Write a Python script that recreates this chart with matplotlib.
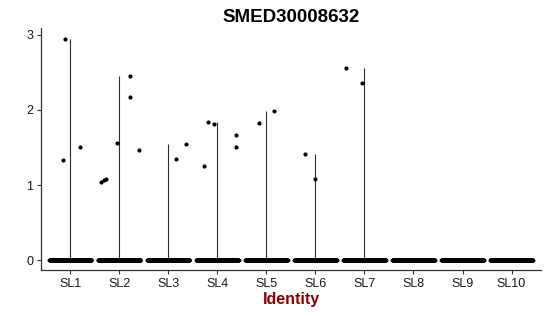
import matplotlib
matplotlib.use("Agg")
import matplotlib.pyplot as plt
import numpy as np

plt.rcParams["font.family"] = ["Liberation Sans", "DejaVu Sans"]

categories = ["SL1", "SL2", "SL3", "SL4", "SL5", "SL6", "SL7", "SL8", "SL9", "SL10"]

# non-zero expression values per cluster (everything else is 0)
nonzero_values = [
    [1.33, 2.94, 1.51],
    [1.04, 1.06, 1.08, 1.56, 2.45, 2.17, 1.47],
    [1.34, 1.54],
    [1.25, 1.84, 1.81, 1.67, 1.50],
    [1.82, 1.98],
    [1.41, 1.08],
    [2.56, 2.36],
    [],
    [],
    [],
]
# horizontal jitter of the non-zero points (fraction of a category slot)
nonzero_jitter = [
    [-0.15, -0.10, 0.20],
    [-0.38, -0.32, -0.27, -0.05, 0.22, 0.22, 0.40],
    [0.15, 0.35],
    [-0.27, -0.20, -0.08, 0.38, 0.38],
    [-0.15, 0.16],
    [-0.22, 0.0],
    [-0.38, -0.05],
    [],
    [],
    [],
]
zero_counts = [180, 260, 250, 240, 200, 240, 250, 250, 250, 300]

fig = plt.figure(figsize=(5.5, 3.16), dpi=100)
ax = fig.add_axes([0.0745, 0.1456, 0.909, 0.7658])

x = np.arange(1, len(categories) + 1)

for i, (vals, jit, nz) in enumerate(zip(nonzero_values, nonzero_jitter, zero_counts)):
    xc = x[i]
    # thin violin: a line from 0 up to the cluster maximum
    if vals:
        ax.vlines(xc, 0, max(vals), color="#2b2b2b", lw=0.8, zorder=1)
    # jittered zero cells
    zx = xc + np.linspace(-0.43, 0.43, nz)
    ax.scatter(zx, np.zeros(nz), s=8, color="black", lw=0, zorder=2)
    if vals:
        ax.scatter(xc + np.array(jit), vals, s=9, color="black", lw=0, zorder=3)

ax.set_xlim(0.4, 10.6)
ax.set_ylim(-0.133, 3.093)
ax.set_xticks(x)
ax.set_xticklabels(categories, fontsize=9, color="#1a1a1a")
ax.set_yticks([0, 1, 2, 3])
ax.set_yticklabels(["0", "1", "2", "3"], fontsize=9, color="#1a1a1a")
ax.tick_params(length=3, width=0.8, color="#333333", pad=2.5)

for side in ["top", "right"]:
    ax.spines[side].set_visible(False)
for side in ["left", "bottom"]:
    ax.spines[side].set_color("#333333")
    ax.spines[side].set_linewidth(0.9)

ax.set_xlabel("Identity", fontsize=11.5, fontweight="bold", color="#8B0000", labelpad=2)
ax.set_title("SMED30008632", fontsize=13.5, fontweight="bold", pad=4)

fig.savefig("out.png", dpi=100)
